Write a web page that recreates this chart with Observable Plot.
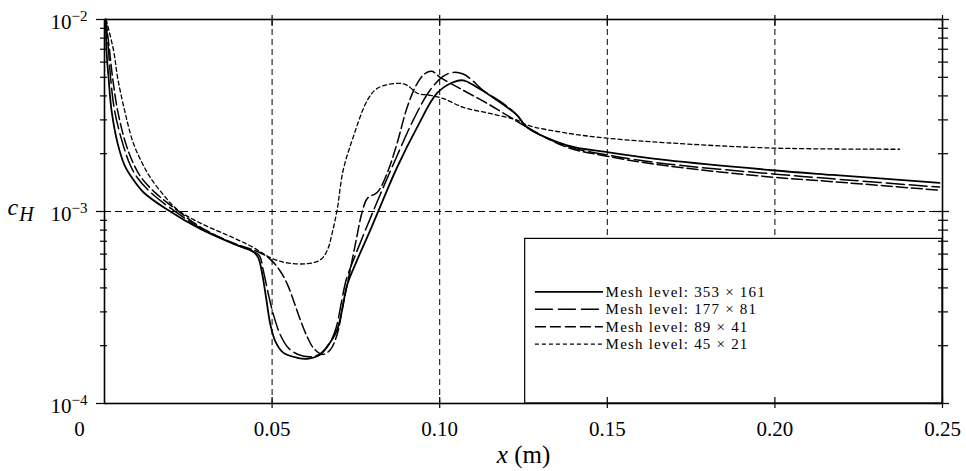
<!DOCTYPE html>
<html><head><meta charset="utf-8">
<script src="https://cdn.jsdelivr.net/npm/d3@7"></script>
<script src="https://cdn.jsdelivr.net/npm/@observablehq/plot@0.6"></script>
<style>html,body{margin:0;padding:0;background:#fff;} svg{display:block}</style>
</head><body><div id="chart"></div>
<script>
// ---- data ----
const seriesNames = ["Mesh level: 353 \u00d7 161", "Mesh level: 177 \u00d7 81", "Mesh level: 89 \u00d7 41", "Mesh level: 45 \u00d7 21"];

const mesh353x = [0.0004,0.0006,0.0012,0.0021,0.0039,0.0060,0.0083,0.0116,0.0188,0.0286,0.0384,0.0444,0.0459,0.0471,0.0483,0.0495,0.0510,0.0533,0.0575,0.0605,0.0644,0.0673,0.0694,0.0709,0.0724,0.0754,0.0793,0.0831,0.0873,0.0933,0.0992,0.1040,0.1070,0.1111,0.1171,0.1231,0.1260,0.1380,0.1499,0.1678,0.1993,0.2172,0.2491];
const mesh353y = [1.0e-2,6.9e-3,5.0e-3,3.36e-3,2.27e-3,1.74e-3,1.49e-3,1.26e-3,1.02e-3,8.1e-4,6.8e-4,6.17e-4,5.73e-4,4.68e-4,3.47e-4,2.57e-4,2.10e-4,1.84e-4,1.73e-4,1.71e-4,1.80e-4,2.08e-4,2.42e-4,3.08e-4,4.15e-4,5.60e-4,8.0e-4,1.15e-3,1.70e-3,2.75e-3,4.13e-3,4.71e-3,4.82e-3,4.44e-3,3.80e-3,3.17e-3,2.75e-3,2.21e-3,2.04e-3,1.85e-3,1.64e-3,1.55e-3,1.41e-3];

const mesh177x = [0.0004,0.0012,0.0018,0.0030,0.0054,0.0077,0.0098,0.0137,0.0197,0.0286,0.0384,0.0444,0.0462,0.0474,0.0489,0.0504,0.0524,0.0548,0.0578,0.0614,0.0644,0.0673,0.0691,0.0706,0.0721,0.0748,0.0781,0.0822,0.0867,0.0921,0.0971,0.1010,0.1040,0.1070,0.1097,0.1129,0.1189,0.1231,0.1260,0.1380,0.1499,0.1678,0.1993,0.2172,0.2491];
const mesh177y = [1.0e-2,6.9e-3,5.0e-3,3.36e-3,2.27e-3,1.74e-3,1.50e-3,1.26e-3,1.04e-3,8.2e-4,6.8e-4,6.17e-4,5.9e-4,4.9e-4,3.7e-4,2.9e-4,2.29e-4,1.95e-4,1.80e-4,1.75e-4,1.82e-4,2.08e-4,2.48e-4,3.3e-4,4.4e-4,5.9e-4,8.2e-4,1.22e-3,1.85e-3,2.99e-3,4.28e-3,5.05e-3,5.3e-3,5.2e-3,4.82e-3,4.28e-3,3.66e-3,3.17e-3,2.75e-3,2.19e-3,1.97e-3,1.77e-3,1.57e-3,1.48e-3,1.34e-3];

const mesh89x = [0.0004,0.0015,0.0024,0.0039,0.0063,0.0086,0.0110,0.0152,0.0212,0.0286,0.0384,0.0450,0.0480,0.0501,0.0524,0.0545,0.0563,0.0584,0.0605,0.0623,0.0650,0.0673,0.0694,0.0712,0.0727,0.0748,0.0769,0.0784,0.0814,0.0843,0.0873,0.0903,0.0933,0.0957,0.0977,0.1001,0.1070,0.1141,0.1210,0.1260,0.1380,0.1499,0.1678,0.1993,0.2172,0.2491];
const mesh89y = [1.0e-2,6.9e-3,5.0e-3,3.36e-3,2.27e-3,1.78e-3,1.50e-3,1.25e-3,1.03e-3,8.3e-4,6.85e-4,6.25e-4,5.9e-4,5.5e-4,4.9e-4,4.2e-4,3.47e-4,2.73e-4,2.22e-4,1.95e-4,1.80e-4,1.90e-4,2.29e-4,3.3e-4,4.4e-4,6.7e-4,1.0e-3,1.17e-3,1.26e-3,1.58e-3,2.27e-3,3.49e-3,4.65e-3,5.24e-3,5.37e-3,5.0e-3,4.28e-3,3.66e-3,3.10e-3,2.75e-3,2.16e-3,1.94e-3,1.73e-3,1.51e-3,1.43e-3,1.29e-3];

const mesh45x = [0.0005,0.0027,0.0039,0.0060,0.0086,0.0113,0.0137,0.0176,0.0218,0.0286,0.0384,0.0444,0.0495,0.0545,0.0605,0.0644,0.0665,0.0679,0.0694,0.0712,0.0742,0.0784,0.0814,0.0873,0.0903,0.0933,0.0971,0.1010,0.1070,0.1150,0.1231,0.1260,0.1380,0.1499,0.1678,0.1993,0.2372];
const mesh45y = [1.0e-2,6.9e-3,5.0e-3,3.36e-3,2.27e-3,1.78e-3,1.50e-3,1.22e-3,1.02e-3,8.7e-4,7.3e-4,6.5e-4,5.74e-4,5.4e-4,5.35e-4,5.6e-4,6.3e-4,7.7e-4,1.02e-3,1.64e-3,2.44e-3,3.79e-3,4.38e-3,4.65e-3,4.54e-3,4.13e-3,4.03e-3,3.88e-3,3.49e-3,3.24e-3,2.99e-3,2.82e-3,2.56e-3,2.41e-3,2.28e-3,2.14e-3,2.11e-3];

const xTicks = [0.05, 0.10, 0.15, 0.20, 0.25];
const xGrid = [0.05, 0.10, 0.15, 0.20];
const yTicks = [1e-4, 1e-3, 1e-2];
const yGrid = [1e-3];
const yMinorTicks = [2e-4,3e-4,4e-4,5e-4,6e-4,7e-4,8e-4,9e-4,2e-3,3e-3,4e-3,5e-3,6e-3,7e-3,8e-3,9e-3];

// ---- styles / layout ----
const serif = "'Liberation Serif', 'DejaVu Serif', serif";
const styles = [
  {strokeWidth: 1.8, dash: null},
  {strokeWidth: 1.5, dash: "18,5"},
  {strokeWidth: 1.5, dash: "11,4"},
  {strokeWidth: 1.3, dash: "4,3"}
];
const legendBox = {x1: 0.1255, x2: 0.25, y1: 1e-4, y2: 7.2e-4};
const legendRowsY = [3.818e-4, 3.096e-4, 2.512e-4, 2.037e-4];
const legendLineX = [0.1284, 0.1487];
const legendTextX = 0.1495;

const xs = [mesh353x, mesh177x, mesh89x, mesh45x];
const ys = [mesh353y, mesh177y, mesh89y, mesh45y];

const marks = [
  Plot.gridX(xGrid, {stroke: "black", strokeOpacity: 1, strokeWidth: 1, strokeDasharray: "6,4"}),
  Plot.gridY(yGrid, {stroke: "black", strokeOpacity: 1, strokeWidth: 1, strokeDasharray: "7,4"}),
  Plot.rect([0], {x1: legendBox.x1, x2: legendBox.x2, y1: legendBox.y1, y2: legendBox.y2, fill: "white", stroke: "black", strokeWidth: 1.2})
];

xs.forEach((xv, i) => {
  const data = xv.map((x, j) => ({x, y: ys[i][j]}));
  const st = styles[i];
  marks.push(Plot.line(data, {x: "x", y: "y", stroke: "black", strokeWidth: st.strokeWidth, strokeDasharray: st.dash, curve: "catmull-rom"}));
  marks.push(Plot.link([0], {x1: legendLineX[0], x2: legendLineX[1], y1: legendRowsY[i], y2: legendRowsY[i], stroke: "black", strokeWidth: st.strokeWidth, strokeDasharray: st.dash}));
  marks.push(Plot.text([seriesNames[i]], {x: legendTextX, y: legendRowsY[i], text: d => d, textAnchor: "start", fontSize: 15, fontFamily: serif, fill: "black"}));
});

marks.push(
  Plot.frame({stroke: "black", strokeWidth: 1.6}),
  // bottom tick labels
  Plot.axisX(xTicks, {anchor: "bottom", tickSize: 0, tickPadding: 18, fontSize: 21, tickFormat: d3.format(".2f"), label: null, fontFamily: serif}),
  Plot.axisX([0], {anchor: "bottom", tickSize: 0, tickPadding: 18, dx: -25, fontSize: 21, tickFormat: () => "0", label: null, fontFamily: serif}),
  // crossing ticks
  Plot.axisX(xTicks, {anchor: "bottom", tickSize: 11, dy: -6, fill: "none", label: null, strokeWidth: 1.2}),
  Plot.axisX(xTicks, {anchor: "top", tickSize: 11, dy: 6, fill: "none", label: null, strokeWidth: 1.2}),
  Plot.axisY(yTicks, {anchor: "left", tickSize: 11, dx: 3, fill: "none", label: null, strokeWidth: 1.2}),
  Plot.axisY(yMinorTicks, {anchor: "left", tickSize: 7, dx: 3, fill: "none", label: null, strokeWidth: 1.2}),
  Plot.axisY(yTicks, {anchor: "right", tickSize: 16, dx: -10, fill: "none", label: null, strokeWidth: 1.2}),
  Plot.axisY(yMinorTicks, {anchor: "right", tickSize: 10, dx: -5, fill: "none", label: null, strokeWidth: 1.2}),
  // y tick labels
  Plot.axisY(yTicks, {anchor: "left", tickSize: 0, tickPadding: 17, dy: 3, fontSize: 21, tickFormat: d => "10^" + Math.round(Math.log10(d)), label: null, fontFamily: serif}),
  // axis titles
  Plot.text(["c_H"], {frameAnchor: "left", text: d => d, dx: -97, dy: -4, textAnchor: "start", fontSize: 24, fontFamily: serif}),
  Plot.text(["x (m)"], {frameAnchor: "bottom", text: d => d, dy: 59, fontSize: 25, fontFamily: serif})
);

const chart = Plot.plot({
  width: 966, height: 471,
  marginTop: 19, marginBottom: 68, marginLeft: 104, marginRight: 24,
  x: {domain: [0, 0.25]},
  y: {type: "log", domain: [1e-4, 1e-2]},
  style: {fontFamily: serif, background: "white", color: "black", overflow: "visible"},
  marks
});

// rich text: superscripts, italics, subscripts
d3.select(chart).selectAll("text").each(function() {
  const t = this.textContent;
  const sel = d3.select(this);
  if (t.startsWith("10^")) {
    const exp = t.split("^")[1].replace("-", "\u2212");
    sel.text("10");
    sel.append("tspan").attr("dy", "-0.55em").attr("font-size", "15px").text(exp);
  } else if (t === "c_H") {
    sel.text("");
    sel.append("tspan").attr("font-style", "italic").text("c");
    sel.append("tspan").attr("font-style", "italic").attr("font-size", "20px").attr("dy", "0.3em").attr("dx", "1").text("H");
  } else if (t === "x (m)") {
    sel.text("");
    sel.append("tspan").attr("font-style", "italic").text("x");
    sel.append("tspan").text(" (m)");
  } else if (t.startsWith("Mesh")) {
    sel.attr("letter-spacing", "1.2px");
  }
});

document.getElementById("chart").appendChild(chart);
</script>
</body></html>
